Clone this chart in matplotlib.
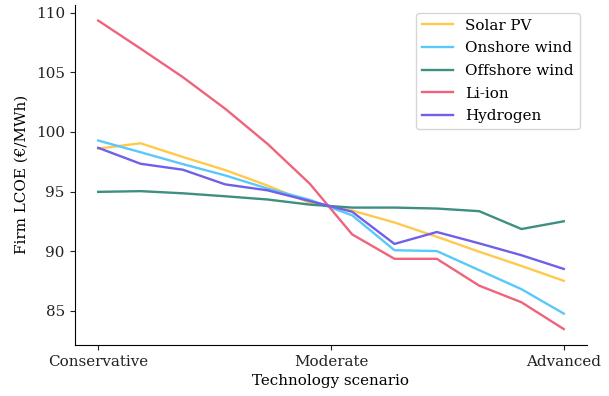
import numpy as np
import matplotlib
matplotlib.use("Agg")
import matplotlib.pyplot as plt

plt.rcParams['font.family'] = 'DejaVu Serif'
plt.rcParams['font.size'] = 10.9

# scenario steps from conservative (0) to advanced (11)
steps = np.arange(12)
tick_pos = [0, 5.5, 11]
tick_labels = ['Conservative', 'Moderate', 'Advanced']

solar_pv = [98.6, 99.05, 97.9, 96.8, 95.5, 94.05, 93.4, 92.4, 91.2, 89.95, 88.75, 87.5]
onshore = [99.28, 98.3, 97.3, 96.35, 95.25, 94.3, 93.0, 90.07, 90.0, 88.4, 86.8, 84.75]
offshore = [94.97, 95.03, 94.85, 94.6, 94.33, 93.9, 93.65, 93.65, 93.57, 93.35, 91.85, 92.5]
li_ion = [109.35, 107.0, 104.6, 101.95, 99.0, 95.65, 91.4, 89.35, 89.35, 87.1, 85.7, 83.45]
hydrogen = [98.67, 97.33, 96.83, 95.6, 95.1, 94.2, 93.3, 90.6, 91.6, 90.65, 89.65, 88.5]

series = [('Solar PV', solar_pv, '#ffc94d'),
          ('Onshore wind', onshore, '#5ac8fa'),
          ('Offshore wind', offshore, '#3d8f80'),
          ('Li-ion', li_ion, '#f0637c'),
          ('Hydrogen', hydrogen, '#7060e8')]

fig, ax = plt.subplots(figsize=(6.09, 3.96), dpi=100)
fig.subplots_adjust(left=0.123, right=0.964, top=0.987, bottom=0.13)

for name, vals, col in series:
    ax.plot(steps, vals, color=col, lw=1.7, label=name)

ax.set_xticks(tick_pos)
ax.set_xticklabels(tick_labels)
ax.set_yticks([85, 90, 95, 100, 105, 110])
ax.tick_params(length=3.8, colors='#222222')
ax.set_xlabel('Technology scenario')
ax.set_ylabel('Firm LCOE (€/MWh)', labelpad=5)
ax.spines['top'].set_visible(False)
ax.spines['right'].set_visible(False)
ax.legend(loc='upper right', labelspacing=0.57)

fig.savefig('out.png', dpi=100)
